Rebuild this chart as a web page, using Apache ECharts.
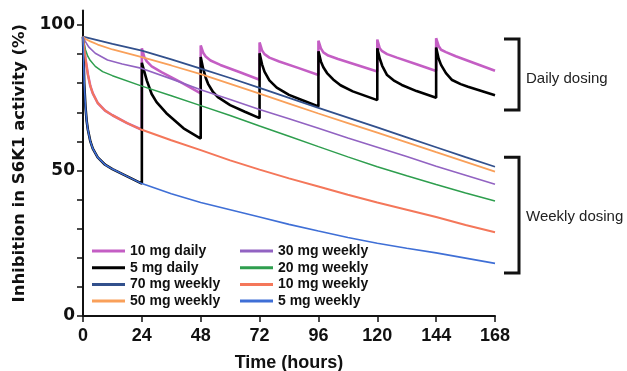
<!DOCTYPE html>
<html>
<head>
<meta charset="utf-8">
<script src="https://cdn.jsdelivr.net/npm/echarts@6/dist/echarts.min.js"></script>
<style>
  html, body { margin: 0; padding: 0; background: #fff; }
  #main { width: 627px; height: 371px; }
</style>
</head>
<body>
<div id="main"></div>
<script>
var chartDom = document.getElementById('main');
var myChart = echarts.init(chartDom);
var option;

// hours after first dose, inhibition %
let daily10 = [[0, 96], [0.5, 92], [1, 88.5], [2, 83], [3, 79], [4, 76.5], [6, 73.2], [9, 70.6], [12, 69], [18, 66.3], [24, 64],
    [24, 92], [25, 89], [26, 87.5], [28, 85.8], [32, 83.8], [40, 80.3], [48, 76.5],
    [48, 93], [49, 90.5], [50, 89.2], [52, 87.8], [56, 86.3], [64, 83.8], [72, 81.2],
    [72, 94], [73, 91.3], [74, 90], [76, 88.8], [80, 87.5], [88, 85.2], [96, 82.8],
    [96, 94.6], [97, 92], [98, 90.6], [100, 89.5], [104, 88.3], [112, 86.2], [120, 84],
    [120, 95], [121, 92], [122, 91], [124, 90], [128, 88.8], [136, 86.5], [144, 84.2],
    [144, 95.5], [145, 92.8], [146, 91.5], [148, 90.7], [152, 89.3], [160, 86.8], [168, 84.3]];
let daily5 = [[0, 96], [0.25, 88], [0.5, 80], [1, 72], [1.5, 67], [2, 64], [3, 60], [4, 57.5], [6, 54.5], [9, 52], [12, 50.5], [18, 48], [24, 45.5],
    [24, 87], [25, 84], [26, 81], [28, 76.3], [30, 73.5], [34, 69.7], [41, 64.5], [48, 61],
    [48, 89], [49, 85], [50, 82], [51, 79.8], [53, 77], [55, 75.2], [60, 72.5], [66, 70.2], [72, 68],
    [72, 90.3], [73, 86.5], [74, 84], [76, 81], [79, 78.5], [84, 76], [90, 74], [96, 72],
    [96, 91], [97, 87.5], [98, 85.5], [99.5, 83.5], [102, 81.3], [105, 79.3], [110, 77.2], [120, 74.2],
    [120, 92], [121, 88.5], [122, 86], [124, 82.8], [127, 80.8], [130, 79.4], [136, 77.3], [144, 75],
    [144, 92.3], [145, 88.5], [146, 86.3], [148, 83.5], [150.5, 81.1], [154, 79.7], [157, 78.8], [168, 75.9]];
let weekly70 = [[0, 96], [12, 93.5], [24, 91.2], [36, 88.2], [48, 85], [60, 81.8], [72, 78.4], [84, 75], [96, 71.5], [108, 68.2], [120, 64.8], [132, 61.4], [144, 58], [156, 54.6], [168, 51.3]];
let weekly50 = [[0, 96], [1, 95.2], [3, 94.4], [6, 93.3], [12, 91.6], [24, 89], [36, 86.1], [48, 83.1], [60, 79.8], [72, 76.4], [84, 73], [96, 69.6], [108, 66.3], [120, 63], [132, 59.7], [144, 56.3], [156, 53], [168, 49.6]];
let weekly30 = [[0, 96], [0.5, 95], [1, 94.3], [2.3, 92.5], [5, 90.3], [10, 88], [16, 86.6], [24, 85.1], [36, 81.5], [48, 77.8], [60, 74.4], [72, 71], [84, 67.8], [96, 64.5], [108, 61.2], [120, 58], [132, 54.8], [144, 51.5], [156, 48.4], [168, 45.3]];
let weekly20 = [[0, 96], [0.5, 93.5], [1, 91.5], [2, 89.2], [3, 87.8], [5, 85.8], [8, 84], [12, 82.6], [24, 79], [36, 75.7], [48, 72.3], [60, 68.9], [72, 65.3], [84, 61.8], [96, 58.2], [108, 54.7], [120, 51.3], [132, 48.2], [144, 45.2], [156, 42.3], [168, 39.5]];
let weekly10 = [[0, 96], [0.5, 92], [1, 88.5], [2, 83], [3, 79], [4, 76.5], [6, 73.2], [9, 70.6], [12, 69], [18, 66.3], [24, 64], [36, 60.4], [48, 57], [60, 53.5], [72, 50.3], [84, 47.3], [96, 44.5], [108, 41.7], [120, 39], [132, 36.5], [144, 34], [156, 31.3], [168, 28.8]];
let weekly5 = [[0, 96], [0.25, 88], [0.5, 80], [1, 72], [1.5, 67], [2, 64], [3, 60], [4, 57.5], [6, 54.5], [9, 52], [12, 50.5], [18, 48], [24, 45.5], [36, 42], [48, 39], [60, 36.5], [72, 34], [84, 31.5], [96, 29.2], [108, 27], [120, 25], [132, 23.3], [144, 21.7], [156, 19.9], [168, 18.1]];

let names = ['10 mg daily', '5 mg daily', '70 mg weekly', '50 mg weekly', '30 mg weekly', '20 mg weekly', '10 mg weekly', '5 mg weekly'];
let colors = ['#c45ec4', '#000000', '#32508c', '#f9a05a', '#9263c2', '#2e9e4e', '#f4775a', '#3f6fd6'];
let widths = [2.6, 2.6, 1.8, 1.8, 1.6, 1.5, 2, 1.6];
let seriesData = [daily10, daily5, weekly70, weekly50, weekly30, weekly20, weekly10, weekly5];
let xTicks = [0, 24, 48, 72, 96, 120, 144, 168];
let yTicks = [0, 10, 20, 30, 40, 50, 60, 70, 80, 90, 100];
let yLabels = [0, 50, 100];
// bracket ranges (in %)
let dailyRange = [95.2, 70.8];
let weeklyRange = [54.6, 14.8];

let legendText = {
    fontFamily: 'Liberation Sans',
    fontWeight: 'bold',
    fontSize: 14,
    color: '#111',
    lineHeight: 14
};

// daily lines drawn under the weekly ones
let series = names.map(function(name, i) {
    return {
        name: name,
        type: 'line',
        data: seriesData[i],
        showSymbol: false,
        symbol: 'none',
        itemStyle: { color: colors[i] },
        lineStyle: { color: colors[i], width: widths[i] },
        z: i < 2 ? 2 : 3
    };
});

option = {
    animation: false,
    grid: { left: 83, right: 132, top: 10.5, bottom: 55, outerBoundsMode: 'none' },
    legend: [{
        orient: 'vertical',
        left: 92,
        top: 244,
        padding: 0,
        itemGap: 2.7,
        itemWidth: 33,
        itemHeight: 3,
        icon: 'rect',
        selectedMode: false,
        textStyle: legendText,
        data: names.slice(0, 4)
    }, {
        orient: 'vertical',
        left: 240,
        top: 244,
        padding: 0,
        itemGap: 2.7,
        itemWidth: 33,
        itemHeight: 3,
        icon: 'rect',
        selectedMode: false,
        textStyle: legendText,
        data: names.slice(4)
    }],
    xAxis: {
        type: 'value',
        min: 0,
        max: 168,
        interval: 24,
        name: 'Time (hours)',
        nameLocation: 'middle',
        nameGap: 38,
        nameTextStyle: { fontFamily: 'Liberation Sans', fontWeight: 'bold', fontSize: 18, color: '#111' },
        axisLine: { lineStyle: { color: '#111', width: 2 } },
        axisTick: { length: 6, lineStyle: { color: '#111', width: 1.5 }, customValues: xTicks },
        axisLabel: { margin: 11, fontFamily: 'Liberation Sans', fontWeight: 'bold', fontSize: 18, color: '#111', customValues: xTicks },
        splitLine: { show: false }
    },
    yAxis: {
        type: 'value',
        min: 0,
        max: 105,
        name: 'Inhibition in S6K1 activity (%)',
        nameLocation: 'middle',
        nameGap: 48,
        nameTextStyle: { fontFamily: 'DejaVu Sans', fontWeight: 'bold', fontSize: 16.5, color: '#111' },
        axisLine: { show: true, lineStyle: { color: '#111', width: 2 } },
        axisTick: { show: true, length: 6, lineStyle: { color: '#111', width: 1.5 }, customValues: yTicks },
        axisLabel: { margin: 8, fontFamily: 'DejaVu Sans', fontWeight: 'bold', fontSize: 17, color: '#111', customValues: yLabels },
        splitLine: { show: false }
    },
    series: series
};

option && myChart.setOption(option);

// brackets marking the daily and weekly groups
function bracket(range, label, dy) {
    let x0 = myChart.convertToPixel({ xAxisIndex: 0 }, 168) + 9;
    let x1 = x0 + 15;
    let yTop = myChart.convertToPixel({ yAxisIndex: 0 }, range[0]);
    let yBot = myChart.convertToPixel({ yAxisIndex: 0 }, range[1]);
    return [{
        type: 'polyline',
        shape: { points: [[x0, yTop], [x1, yTop], [x1, yBot], [x0, yBot]] },
        style: { stroke: '#111', lineWidth: 3, fill: null }
    }, {
        type: 'text',
        x: x1 + 7,
        y: (yTop + yBot) / 2 + dy,
        style: {
            text: label,
            fill: '#222',
            font: '15px "Liberation Sans"',
            verticalAlign: 'middle'
        }
    }];
}

myChart.setOption({
    graphic: bracket(dailyRange, 'Daily dosing', 4).concat(bracket(weeklyRange, 'Weekly dosing', 2))
});
</script>
</body>
</html>
